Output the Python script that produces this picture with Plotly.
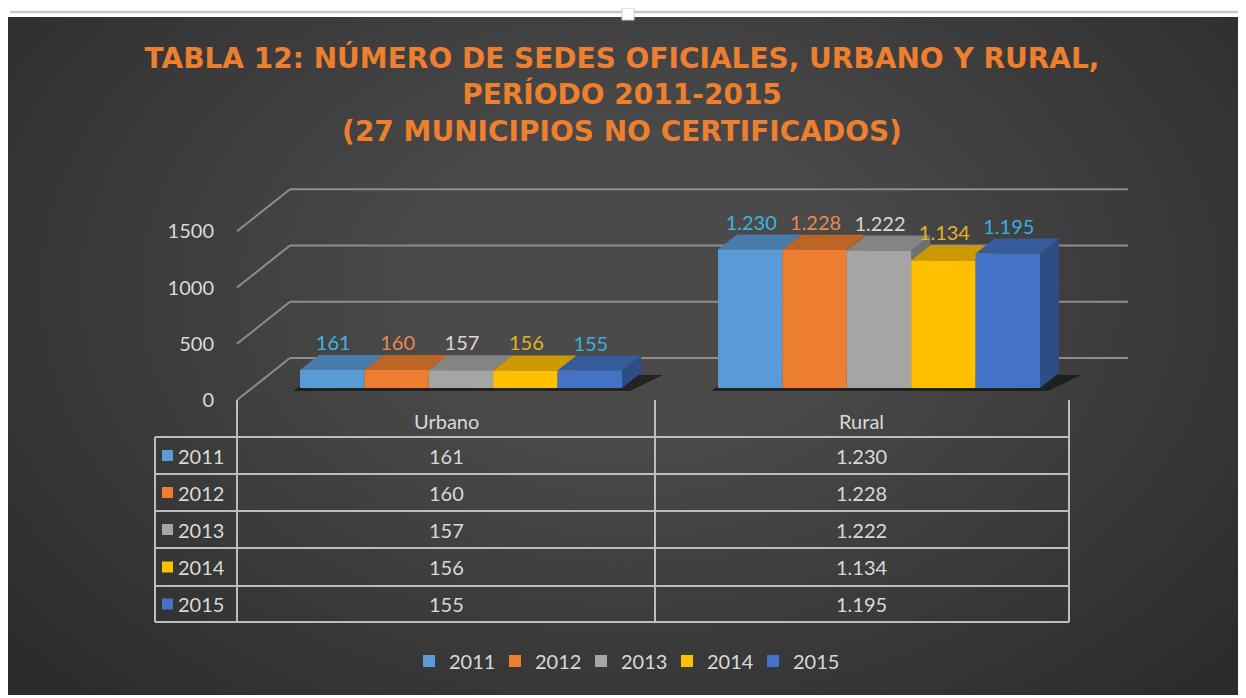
import plotly.graph_objects as go

# ---------------- data ----------------
categories = ["Urbano", "Rural"]
years = ["2011", "2012", "2013", "2014", "2015"]
sedes_2011 = [161, 1230]
sedes_2012 = [160, 1228]
sedes_2013 = [157, 1222]
sedes_2014 = [156, 1134]
sedes_2015 = [155, 1195]
series = [sedes_2011, sedes_2012, sedes_2013, sedes_2014, sedes_2015]
tick_values = [0, 500, 1000, 1500]
tick_labels = ["0", "500", "1000", "1500"]
title_lines = ["TABLA 12: NÚMERO DE SEDES OFICIALES, URBANO Y RURAL,",
               "PERÍODO 2011-2015",
               "(27 MUNICIPIOS NO CERTIFICADOS)"]

# ---------------- style ----------------
bar_colors = ["#5B9BD5", "#ED7D31", "#A5A5A5", "#FFC000", "#4472C4"]
label_colors = ["#3DB3E3", "#E98A48", "#D9D9D9", "#E3B324", "#3AAEDF"]
TEXT = "#D9D9D9"
FONT = "Lato"


def shade(hex_color, f):
    h = hex_color.lstrip("#")
    r, g, b = (int(h[i:i + 2], 16) for i in (0, 2, 4))
    return "#%02x%02x%02x" % (int(r * f), int(g * f), int(b * f))


def fmt(v):
    return f"{v:,}".replace(",", ".")


# page geometry (the figure sits at an 8px body offset in the page)
OFF = 8
PAGE_W, PAGE_H = 1246, 698
W, H = PAGE_W - OFF, PAGE_H - OFF
CAT_PX = 418.0    # pixels between category centres
CAT0_PX = 461.0   # page x of first category centre
BASE_PX = 388.0   # page y of bar base
UNIT_PX = 0.1125  # pixels per unit


def xd(px):
    return (px - CAT0_PX) / CAT_PX


def yd(py):
    return (BASE_PX - py) / UNIT_PX


def pw(px):
    return px / CAT_PX


def ph(px):
    return px / UNIT_PX


def xp(px):
    return (px - OFF) / W


def yp(py):
    return 1 - (py - OFF) / H


x_range = [xd(OFF), xd(PAGE_W)]
y_range = [yd(PAGE_H), yd(OFF)]
bar_w = pw(64.4)
deep_x = pw(19)
deep_y = ph(15)
wall_dy = ph(30)     # back wall offset
front_dy = ph(-12)   # front (axis) plane offset
y2_range = [y_range[0] - front_dy, y_range[1] - front_dy]

fig = go.Figure()

# ---------- shadows ----------
for j in range(len(categories)):
    xl = j - 2.5 * bar_w
    xr = j + 2.5 * bar_w
    fig.add_trace(go.Scatter(
        x=[xl - pw(7), xr + pw(8), xr + deep_x + pw(22), xl + deep_x, xl - pw(7)],
        y=[ph(-3), ph(-3), deep_y - ph(2), deep_y, ph(-3)],
        fill="toself", fillcolor="rgba(18,18,18,0.7)", mode="none",
        showlegend=False, hoverinfo="skip"))

# ---------- side faces ----------
for i, vals in enumerate(series):
    xs, ys = [], []
    for j, v in enumerate(vals):
        xc = j + (i - 2) * bar_w
        x1 = xc + bar_w / 2
        xs += [x1, x1 + deep_x, x1 + deep_x, x1, x1, None]
        ys += [0, deep_y, v + deep_y, v, 0, None]
    fig.add_trace(go.Scatter(x=xs, y=ys, fill="toself", mode="lines",
                             line=dict(width=0, color=shade(bar_colors[i], 0.68)),
                             fillcolor=shade(bar_colors[i], 0.68),
                             showlegend=False, hoverinfo="skip"))

# ---------- top faces ----------
for i, vals in enumerate(series):
    xs, ys = [], []
    for j, v in enumerate(vals):
        xc = j + (i - 2) * bar_w
        x0 = xc - bar_w / 2
        x1 = xc + bar_w / 2
        xs += [x0, x1, x1 + deep_x, x0 + deep_x, x0, None]
        ys += [v, v, v + deep_y, v + deep_y, v, None]
    fig.add_trace(go.Scatter(x=xs, y=ys, fill="toself", mode="lines",
                             line=dict(width=0, color=shade(bar_colors[i], 0.8)),
                             fillcolor=shade(bar_colors[i], 0.8),
                             showlegend=False, hoverinfo="skip"))

# ---------- invisible trace for front value axis ----------
fig.add_trace(go.Scatter(x=[0], y=[0], yaxis="y2", mode="markers",
                         marker=dict(opacity=0), showlegend=False, hoverinfo="skip"))

# ---------- front faces (bars) ----------
for i, vals in enumerate(series):
    fig.add_trace(go.Bar(
        x=[j + (i - 2) * bar_w for j in range(len(categories))],
        y=vals, width=bar_w, name=years[i], yaxis="y3",
        marker=dict(color=bar_colors[i], line=dict(width=0)),
        customdata=categories,
        hovertemplate="%{customdata} " + years[i] + ": %{y}<extra></extra>"))

# ---------- data labels ----------
for i, vals in enumerate(series):
    fig.add_trace(go.Scatter(
        x=[j + (i - 2) * bar_w + pw(1) for j in range(len(categories))],
        y=[v + ph(25) for v in vals], yaxis="y3",
        mode="text", text=[fmt(v) for v in vals],
        textfont=dict(family=FONT, size=20, color=label_colors[i]),
        showlegend=False, hoverinfo="skip"))

# ---------- shapes ----------
shapes = []
# background with soft radial light
shapes.append(dict(type="rect", xref="paper", yref="paper", x0=xp(8), x1=xp(1241),
                   y0=yp(695), y1=yp(17), fillcolor="#2c2c2c", line=dict(width=0), layer="below"))
N = 32
for k in range(N):
    f = 1 - k / N
    rx = 150 + 640 * f
    ry = 110 + 440 * f
    cx, cy = 630, 290
    shapes.append(dict(type="circle", xref="paper", yref="paper",
                       x0=xp(cx - rx), x1=xp(cx + rx), y0=yp(cy + ry), y1=yp(cy - ry),
                       fillcolor="#767676", opacity=0.027, line=dict(width=0), layer="below"))
# white margins
for (a, b, c, d) in [(0, 8, 0, PAGE_H), (1241, PAGE_W, 0, PAGE_H), (0, PAGE_W, 0, 17),
                     (0, PAGE_W, 695, PAGE_H)]:
    shapes.append(dict(type="rect", xref="paper", yref="paper", x0=xp(a), x1=xp(b),
                       y0=yp(d), y1=yp(c), fillcolor="white", line=dict(width=0), layer="below"))
shapes.append(dict(type="line", xref="paper", yref="paper", x0=xp(10), x1=xp(1240),
                   y0=yp(12), y1=yp(12), line=dict(color="#C8C8C8", width=2.5), layer="below"))
shapes.append(dict(type="rect", xref="paper", yref="paper", x0=xp(622), x1=xp(634),
                   y0=yp(20), y1=yp(8), fillcolor="white", line=dict(color="#D0D0D0", width=1), layer="below"))

# perspective gridlines (wall + floor)
GRID = "#8E8E8E"
for g in tick_values:
    shapes.append(dict(type="line", xref="x", yref="y", x0=xd(290), x1=xd(1128),
                       y0=g + wall_dy, y1=g + wall_dy, line=dict(color=GRID, width=2), layer="below"))
    shapes.append(dict(type="line", xref="x", yref="y", x0=xd(237), x1=xd(290),
                       y0=g + front_dy, y1=g + wall_dy, line=dict(color=GRID, width=2), layer="below"))

# data table grid
TL = "#BDBDBD"
row_lines = [437, 474, 511, 548, 586, 622]
for ry_ in row_lines:
    shapes.append(dict(type="line", xref="paper", yref="paper", x0=xp(155), x1=xp(1069),
                       y0=yp(ry_), y1=yp(ry_), line=dict(color=TL, width=2)))
for cx_ in [237, 655, 1069]:
    shapes.append(dict(type="line", xref="paper", yref="paper", x0=xp(cx_), x1=xp(cx_),
                       y0=yp(400), y1=yp(622), line=dict(color=TL, width=2)))
shapes.append(dict(type="line", xref="paper", yref="paper", x0=xp(155), x1=xp(155),
                   y0=yp(437), y1=yp(622), line=dict(color=TL, width=2)))

# table legend keys
row_centres = [(row_lines[k] + row_lines[k + 1]) / 2 for k in range(5)]
for i in range(5):
    rc = row_centres[i]
    shapes.append(dict(type="rect", xref="paper", yref="paper", x0=xp(162), x1=xp(173),
                       y0=yp(rc + 5.5), y1=yp(rc - 5.5), fillcolor=bar_colors[i], line=dict(width=0)))

# ---------- annotations (table text) ----------
annotations = []
col_centres = [446, 862]
for j, cat in enumerate(categories):
    annotations.append(dict(xref="paper", yref="paper", x=xp(col_centres[j]), y=yp(421),
                            xanchor="center", yanchor="middle",
                            text=cat, showarrow=False, font=dict(family=FONT, size=20, color=TEXT)))
for i, vals in enumerate(series):
    rc = row_centres[i]
    annotations.append(dict(xref="paper", yref="paper", x=xp(176), y=yp(rc),
                            xanchor="left", yanchor="middle",
                            text=years[i], showarrow=False, font=dict(family=FONT, size=20, color=TEXT)))
    for j, v in enumerate(vals):
        annotations.append(dict(xref="paper", yref="paper", x=xp(col_centres[j]), y=yp(rc),
                                xanchor="center", yanchor="middle",
                                text=fmt(v), showarrow=False,
                                font=dict(family=FONT, size=20, color=TEXT)))

fig.update_layout(
    width=W, height=H,
    margin=dict(l=0, r=0, t=0, b=0),
    paper_bgcolor="white", plot_bgcolor="rgba(0,0,0,0)",
    barmode="overlay",
    title=dict(text="<b>" + "<br>".join(title_lines) + "</b>",
               font=dict(family="DejaVu Sans", size=28, color="#EE7F2F"),
               x=xp(622), xanchor="center", y=yp(68), yanchor="top"),
    xaxis=dict(range=x_range, visible=False, domain=[0, 1], fixedrange=True),
    yaxis=dict(range=y_range, visible=False, domain=[0, 1], fixedrange=True),
    yaxis2=dict(range=y2_range, overlaying="y", anchor="free", position=xp(214), side="left",
                tickvals=tick_values, ticktext=tick_labels, showgrid=False, zeroline=False,
                showline=False, ticks="", tickfont=dict(family=FONT, size=20, color=TEXT),
                fixedrange=True),
    yaxis3=dict(range=y_range, overlaying="y", visible=False, fixedrange=True),
    legend=dict(orientation="h", x=xp(624), xanchor="center", y=yp(661), yanchor="middle",
                font=dict(family=FONT, size=20, color=TEXT), bgcolor="rgba(0,0,0,0)",
                entrywidth=41, itemwidth=30, traceorder="normal"),
    shapes=shapes,
    annotations=annotations,
    showlegend=True,
)

fig.write_html("out.html")
